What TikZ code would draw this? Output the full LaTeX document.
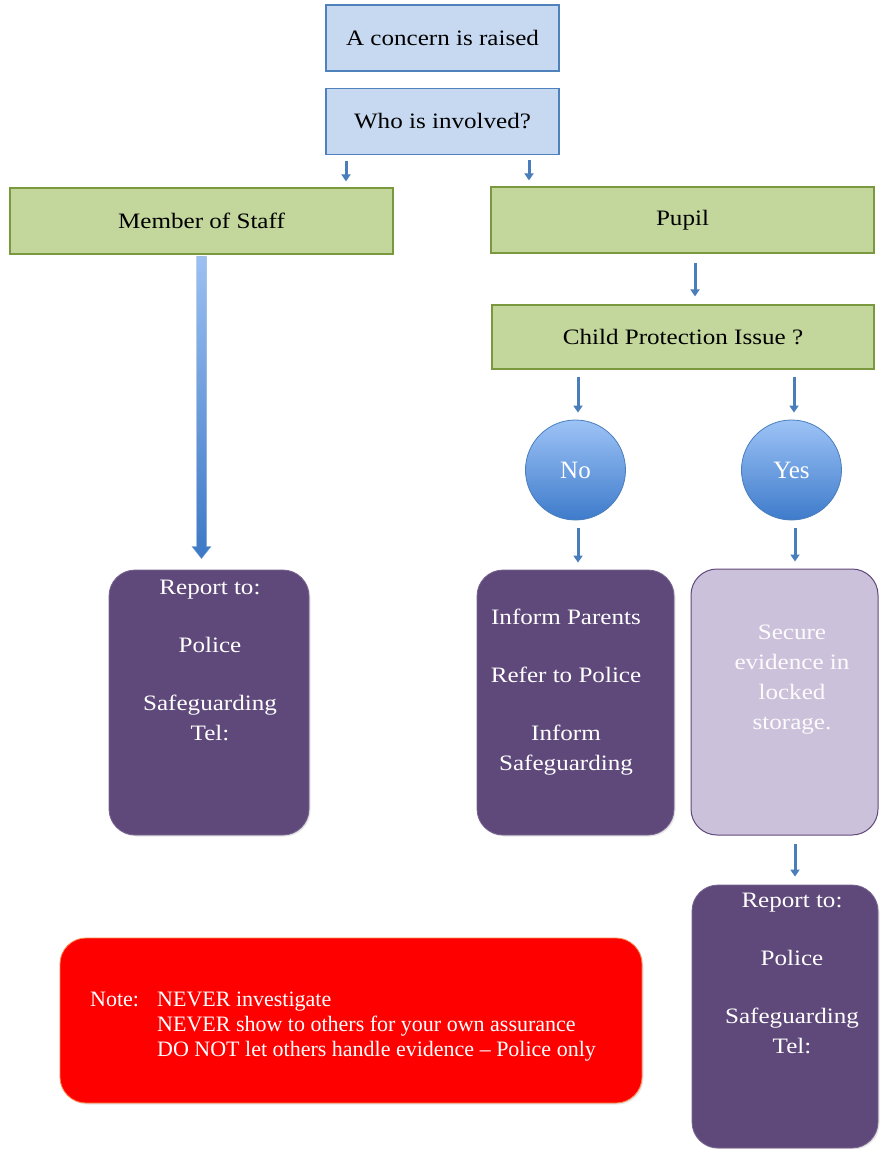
\documentclass[tikz,border=0pt]{standalone}
\usepackage{fontspec}
\setmainfont{Liberation Serif}
\usetikzlibrary{arrows.meta,calc,shadows}
\definecolor{bluefill}{HTML}{C6D9F1}
\definecolor{blueline}{HTML}{4F81BD}
\definecolor{greenfill}{HTML}{C3D69B}
\definecolor{greenline}{HTML}{7A983E}
\definecolor{purp}{HTML}{5F497A}
\definecolor{lilac}{HTML}{CCC1DA}
\definecolor{arrowblue}{HTML}{4A7EBB}
\definecolor{circtop}{HTML}{9DC3F6}
\definecolor{circbot}{HTML}{3E7BCB}
\definecolor{arrtop}{HTML}{9CC0F2}
\definecolor{arrbot}{HTML}{3C78C6}
\definecolor{notered}{HTML}{FF0000}
\definecolor{noteline}{HTML}{F7864A}
\newcommand{\wt}[1]{\scalebox{1.14}[1]{#1}}
\begin{document}
\begin{tikzpicture}[x=1pt,y=-1pt,
  basefont/.style={font=\fontsize{22}{30}\selectfont},
  bluebox/.style={basefont, draw=blueline, line width=1.2pt, fill=bluefill, minimum width=233pt, minimum height=66pt, inner sep=0pt},
  greenbox/.style={basefont, draw=greenline, line width=1.2pt, fill=greenfill, minimum width=383pt, minimum height=66pt, inner sep=0pt},
  decision/.style={circle, draw=arrowblue, line width=0.8pt, top color=circtop, bottom color=circbot, minimum size=100pt, inner sep=0pt, text=white, font=\fontsize{25}{30}\selectfont},
  purplebox/.style={rounded corners=26pt, fill=purp, draw=purp!85!white, line width=0.8pt, minimum height=265pt, inner sep=0pt, drop shadow={opacity=0.2, shadow xshift=1.5pt, shadow yshift=-1.5pt}},
  lilacbox/.style={rounded corners=26pt, fill=lilac, draw=purp, line width=1pt, minimum height=266pt, inner sep=0pt},
  notebox/.style={rounded corners=26pt, fill=notered, draw=noteline, line width=0.8pt, minimum width=582pt, minimum height=165pt, inner sep=0pt, drop shadow={opacity=0.2, shadow xshift=1.5pt, shadow yshift=-1.5pt}},
  boxtext/.style={basefont, align=center, text=white, inner sep=0pt, anchor=north},
  arr/.style={-{Triangle[width=9pt,length=7pt]}, line width=3pt, draw=arrowblue},
]
\useasboundingbox (0,0) rectangle (879,1149);

% top boxes
\node[bluebox] (concern) at (442.5,38) {\wt{A concern is raised}};
\node[bluebox] (who) at (442.5,121.5) {\wt{Who is involved?}};

% green boxes
\node[greenbox] (staff) at (201.5,221) {\wt{Member of Staff}};
\node[greenbox] (pupil) at (682.5,220) {\wt{Pupil}};
\node[greenbox, minimum width=382pt, minimum height=64pt] (cp) at (683,337) {\wt{Child Protection Issue ?}};

% decisions
\node[decision] (no) at (575.5,470) {No};
\node[decision] (yes) at (791.5,470) {Yes};

% outcome boxes
\node[purplebox, minimum width=200pt] (rep1) at (209,702.5) {};
\node[boxtext] (rep1t) at (210,580) {\wt{Report to:}\\[28pt]\wt{Police}\\[28pt]\wt{Safeguarding}\\\wt{Tel:}};

\node[purplebox, minimum width=197pt] (inform) at (575.5,702.5) {};
\node[boxtext] (informt) at (566,609) {\wt{Inform Parents}\\[28pt]\wt{Refer to Police}\\[28pt]\wt{Inform}\\\wt{Safeguarding}};

\node[lilacbox, minimum width=187pt] (secure) at (784.5,702) {};
\node[boxtext, text=white!96!lilac] (securet) at (792,625) {\wt{Secure}\\\wt{evidence in}\\\wt{locked}\\\wt{storage.}};

\node[purplebox, minimum width=186pt, minimum height=263pt] (rep2) at (785,1016.5) {};
\node[boxtext] (rep2t) at (792,893) {\wt{Report to:}\\[28pt]\wt{Police}\\[28pt]\wt{Safeguarding}\\\wt{Tel:}};

% note
\node[notebox] (note) at (351,1020.5) {};
\node[font=\fontsize{22}{25}\selectfont, text=white, align=left, anchor=north west, inner sep=0pt] (notet) at (90,992)
  {\makebox[67pt][l]{Note:}NEVER investigate\\
   \hspace*{67pt}NEVER show to others for your own assurance\\
   \hspace*{67pt}DO NOT let others handle evidence -- Police only};

% thin arrows
\draw[arr] ($(staff.north)+(144.5,-26)$) -- ($(staff.north)+(144.5,-6)$);
\draw[arr] ($(pupil.north)+(-153.5,-26)$) -- ($(pupil.north)+(-153.5,-6)$);
\draw[arr] ($(pupil.south)+(12.5,9)$) -- ($(cp.north)+(12,-8)$);
\draw[arr] ($(no.north)+(2.5,-43)$) -- ($(no.north)+(2.5,-7)$);
\draw[arr] ($(yes.north)+(2.5,-43)$) -- ($(yes.north)+(2.5,-7)$);
\draw[arr] ($(no.south)+(2.5,8)$) -- ($(inform.north)+(2.5,-7)$);
\draw[arr] ($(yes.south)+(3.5,8)$) -- ($(secure.north)+(10.5,-7)$);
\draw[arr] ($(secure.south)+(10.5,8)$) -- ($(rep2.north)+(10,-8)$);

% thick arrow from staff to report
\shade[top color=arrtop, bottom color=arrbot, draw=arrowblue!70, line width=0.4pt]
  ($(staff.south)+(-5,2)$) -- ($(staff.south)+(5,2)$) -- ($(staff.south)+(5,292)$)
  -- ($(staff.south)+(9.5,292)$) -- ($(rep1.north)+(-7.5,-11)$) -- ($(staff.south)+(-9.5,292)$)
  -- ($(staff.south)+(-5,292)$) -- cycle;
\end{tikzpicture}
\end{document}
